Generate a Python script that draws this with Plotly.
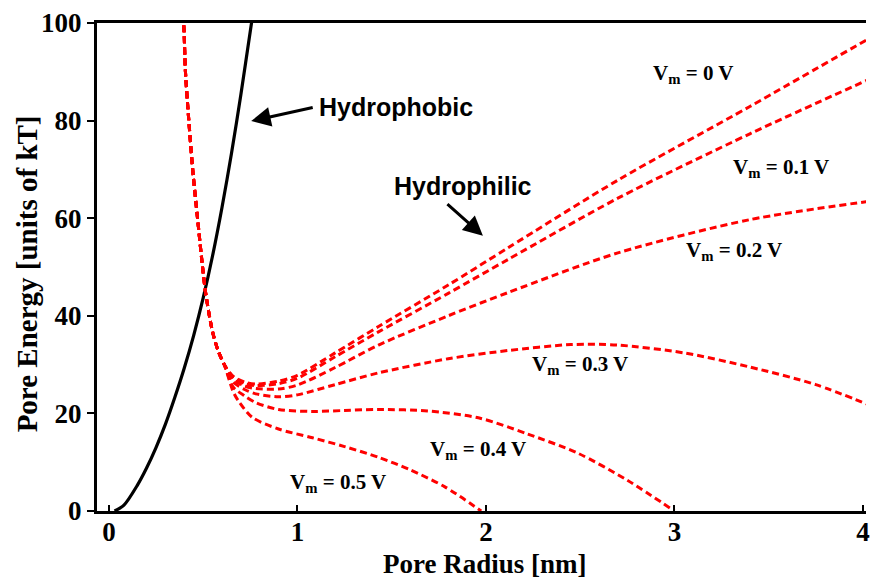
import plotly.graph_objects as go

# ---- data ----
r_hydrophobic = [0.03, 0.08, 0.15, 0.20, 0.25, 0.30, 0.35, 0.40, 0.45, 0.50, 0.55, 0.60, 0.65, 0.70, 0.755, 0.765]
e_hydrophobic = [0.0, 1.2, 5.2, 8.8, 13.0, 17.8, 23.3, 29.3, 36.0, 43.6, 52.3, 62.2, 73.2, 85.3, 99.6, 102.0]

# steep common branch shared by all hydrophilic curves
r_common = [0.385, 0.397, 0.406, 0.424, 0.445, 0.471, 0.498, 0.515, 0.55, 0.58, 0.612]
e_common = [104.0, 99.6, 90.1, 80.0, 69.8, 59.7, 49.6, 44.2, 36.7, 32.8, 30.0]

r_vm0 = [0.66, 0.72, 0.78, 0.90, 1.00, 1.20, 1.43, 1.80, 2.12, 2.70, 3.40, 4.04]
e_vm0 = [27.6, 26.4, 26.0, 26.6, 27.8, 32.4, 37.8, 46.3, 54.0, 67.8, 82.9, 97.0]

r_vm01 = [0.66, 0.72, 0.78, 0.90, 1.00, 1.20, 1.43, 1.80, 2.12, 2.70, 3.40, 4.04]
e_vm01 = [27.4, 26.1, 25.7, 26.1, 27.2, 31.6, 36.7, 44.6, 51.6, 64.1, 77.3, 88.6]

r_vm02 = [0.66, 0.72, 0.78, 0.90, 1.00, 1.20, 1.43, 1.80, 2.12, 2.70, 3.40, 4.04]
e_vm02 = [27.0, 25.6, 25.1, 25.0, 25.8, 29.4, 34.0, 40.0, 44.8, 52.9, 59.7, 63.5]

r_vm03 = [0.66, 0.72, 0.78, 0.90, 1.00, 1.20, 1.43, 1.80, 2.12, 2.45, 2.70, 3.05, 3.40, 3.75, 4.04]
e_vm03 = [26.4, 24.9, 24.0, 23.4, 23.8, 25.9, 28.3, 31.2, 32.9, 34.1, 34.0, 32.4, 29.5, 25.9, 21.6]

r_vm04 = [0.66, 0.72, 0.78, 0.90, 1.08, 1.25, 1.43, 1.69, 1.96, 2.22, 2.49, 2.75, 3.00]
e_vm04 = [25.4, 23.6, 22.2, 20.8, 20.4, 20.6, 20.8, 20.5, 19.1, 15.8, 11.8, 6.3, 0.0]

r_vm05 = [0.66, 0.69, 0.76, 0.90, 1.08, 1.25, 1.43, 1.60, 1.78, 1.975]
e_vm05 = [24.4, 22.4, 19.2, 16.8, 15.0, 13.2, 11.0, 8.4, 5.0, 0.0]

vm_labels = ["V<sub>m</sub> = 0 V", "V<sub>m</sub> = 0.1 V", "V<sub>m</sub> = 0.2 V",
             "V<sub>m</sub> = 0.3 V", "V<sub>m</sub> = 0.4 V", "V<sub>m</sub> = 0.5 V"]
vm_label_x = [3.10, 3.565, 3.315, 2.50, 1.96, 1.215]
vm_label_y = [89.5, 70.2, 53.3, 30.0, 12.4, 5.7]

x_ticks = [0, 1, 2, 3, 4]
y_ticks = [0, 20, 40, 60, 80, 100]

SERIF = "Liberation Serif, Times New Roman, serif"
SANS = "Liberation Sans, Arial, sans-serif"

fig = go.Figure()

fig.add_trace(go.Scatter(x=r_hydrophobic, y=e_hydrophobic, mode="lines",
                         line=dict(color="black", width=3.2, shape="spline", smoothing=0.8),
                         showlegend=False, hoverinfo="skip"))

for rr, ee in [(r_vm0, e_vm0), (r_vm01, e_vm01), (r_vm02, e_vm02),
               (r_vm03, e_vm03), (r_vm04, e_vm04), (r_vm05, e_vm05)]:
    fig.add_trace(go.Scatter(x=r_common + rr, y=e_common + ee, mode="lines",
                             line=dict(color="#ff0000", width=3, dash="7px,4px",
                                       shape="spline", smoothing=0.8),
                             showlegend=False, hoverinfo="skip"))

annotations = []
for t, lx, ly in zip(vm_labels, vm_label_x, vm_label_y):
    annotations.append(dict(x=lx, y=ly, text=t, showarrow=False,
                            font=dict(family=SERIF, size=21, color="black", weight="bold")))

# Hydrophobic / Hydrophilic labels with arrows
annotations.append(dict(x=1.525, y=82.8, text="Hydrophobic", showarrow=False,
                        font=dict(family=SANS, size=25, color="black", weight="bold")))
annotations.append(dict(x=0.755, y=79.9, text="", showarrow=True, ax=63, ay=-14,
                        arrowhead=2, arrowsize=1.3, arrowwidth=3, arrowcolor="black"))
annotations.append(dict(x=1.879, y=66.5, text="Hydrophilic", showarrow=False,
                        font=dict(family=SANS, size=25, color="black", weight="bold")))
annotations.append(dict(x=1.984, y=56.4, text="", showarrow=True, ax=-37, ay=-33,
                        arrowhead=2, arrowsize=1.3, arrowwidth=3, arrowcolor="black"))

# axis titles
annotations.append(dict(xref="paper", yref="paper", x=0.504, y=-0.1095, text="Pore Radius [nm]",
                        showarrow=False, xanchor="center", yanchor="middle",
                        font=dict(family=SERIF, size=27, color="black", weight="bold")))
annotations.append(dict(xref="paper", yref="paper", x=-0.091, y=0.485,
                        text="Pore Energy [units of kT]", textangle=-90,
                        showarrow=False, xanchor="center", yanchor="middle",
                        font=dict(family=SERIF, size=29, color="black", weight="bold")))

# the page body adds an 8px margin on every side, so the figure is sized to fit inside it
fig.update_layout(
    width=862, height=570,
    margin=dict(l=89, r=0, t=10, b=67),
    paper_bgcolor="white", plot_bgcolor="white",
    annotations=annotations,
    xaxis=dict(range=[-0.063, 4.016], tickvals=x_ticks, ticks="inside", ticklen=6,
               tickwidth=2, tickcolor="black", showline=True, linecolor="black",
               linewidth=3, mirror=True, showgrid=False, zeroline=False,
               ticklabeloverflow="allow", ticklabelstandoff=-5,
               tickfont=dict(family=SERIF, size=27, color="black", weight="bold")),
    yaxis=dict(range=[0, 100], tickvals=y_ticks, ticks="outside", ticklen=7,
               tickwidth=2, tickcolor="black", showline=True, linecolor="black",
               linewidth=3, showgrid=False, zeroline=False,
               ticklabeloverflow="allow",
               tickfont=dict(family=SERIF, size=27, color="black", weight="bold")),
)

fig.write_html("out.html")
